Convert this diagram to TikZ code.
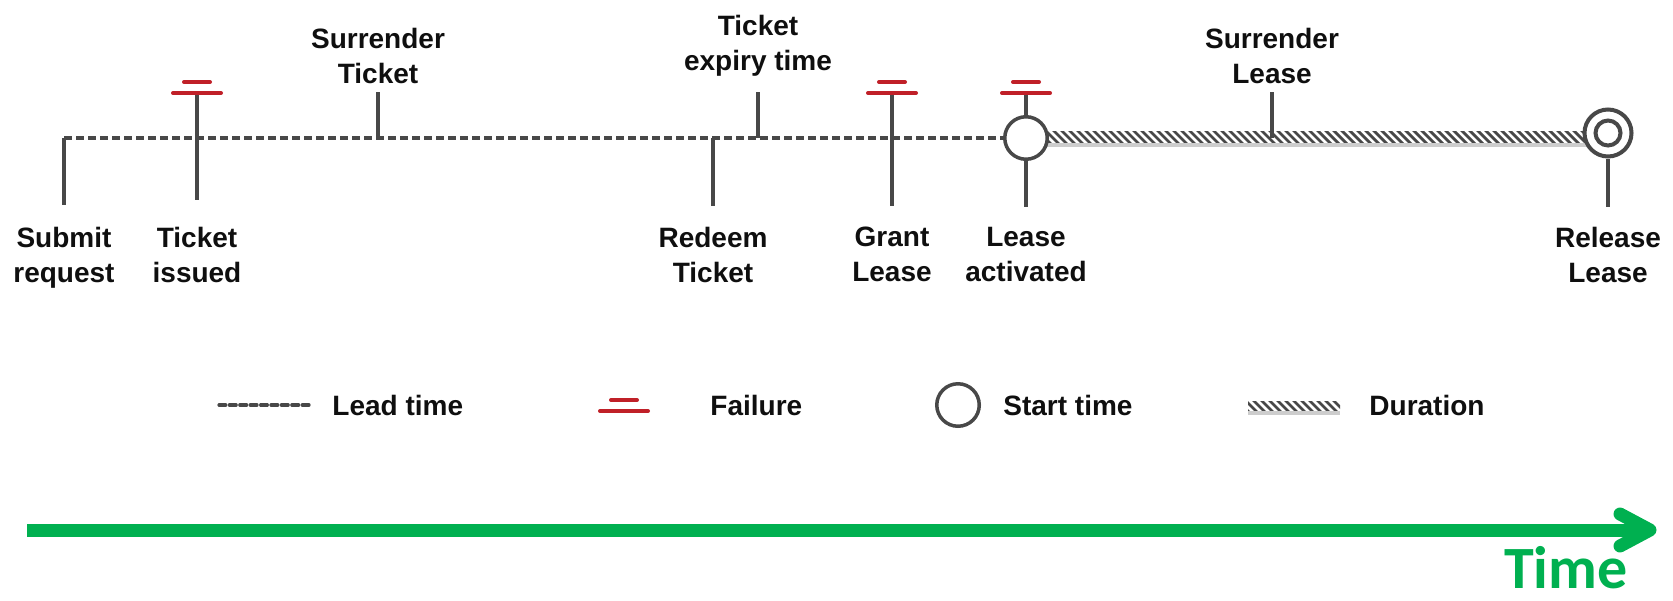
\documentclass[tikz,border=0pt]{standalone}
\usepackage{fontspec}
\setmainfont{Liberation Sans}
\newfontfamily\timefont{Carlito}
\definecolor{tickgray}{RGB}{72,72,72}
\definecolor{failred}{RGB}{192,32,40}
\definecolor{inkblack}{RGB}{15,15,15}
\definecolor{timegreen}{RGB}{0,176,80}
\definecolor{hatchlight}{RGB}{205,205,205}
\begin{document}
\begin{tikzpicture}[x=0.5pt,y=-0.5pt,
  tick/.style={draw=tickgray, line width=2pt},
  lead/.style={draw=tickgray, line width=1.6pt, dash pattern=on 4pt off 2pt},
  keylead/.style={draw=tickgray, line width=1.6pt, dash pattern=on 3.4pt off 1.8pt, line cap=round},
  failbar/.style={draw=failred, line width=2pt, line cap=round},
  hatchln/.style={draw=tickgray, line width=1.4pt},
  evlabel/.style={font=\bfseries\fontsize{14}{17.5}\selectfont, text=inkblack, align=center, inner sep=0pt},
  startcirc/.style={circle, draw=tickgray, line width=1.75pt, fill=white, minimum size=21.25pt, inner sep=0pt},
  endring/.style={circle, draw=tickgray, line width=2pt, fill=white, minimum size=23.5pt, inner sep=0pt},
  timearrow/.style={draw=timegreen, line width=6.5pt},
  failmark/.pic={
    \draw[failbar] (-24,0) -- (24,0);
    \draw[failbar] (-13,-11) -- (13,-11);
  }
]
\useasboundingbox (0,0) rectangle (1673,600);

% ---- event points on the timeline ----
\coordinate (sub) at (64,138);
\coordinate (iss) at (197,138);
\coordinate (surt) at (378,138);
\coordinate (red) at (713,138);
\coordinate (exp) at (758,138);
\coordinate (gra) at (892,138);
\coordinate (surl) at (1272,138);

% ---- duration band (hatched) ----
\begin{scope}
  \clip (1040,131) rectangle (1600,143);
  \foreach \i in {1020,1028,...,1600}
    \draw[hatchln] (\i,129) -- ++(16,16);
\end{scope}
\fill[hatchlight] (1040,143) rectangle (1600,147);

% ---- lead time ----
\node[startcirc] (act) at (1026,138) {};
\draw[lead] (sub) -- (act.west);

% ---- ticks ----
\draw[tick] (sub) -- ++(0,67) coordinate (subb);
\coordinate (issf) at (197,93);
\draw[tick] (issf) -- (197,200);
\draw[tick] (378,92) -- (surt);
\draw[tick] (red) -- (713,206);
\draw[tick] (758,92) -- (exp);
\coordinate (graf) at (892,93);
\draw[tick] (graf) -- (892,206);
\coordinate (actf) at (1026,93);
\draw[tick] (actf) -- (act.north);
\draw[tick] (act.south) -- (1026,207);
\draw[tick] (1272,92) -- (surl);

% ---- release ----
\node[endring] (rel) at (1608,133) {};
\draw[draw=tickgray, line width=2pt] (rel.center) circle (12.5);
\draw[tick] (rel.south) -- (1608,207);

% ---- failure markers ----
\pic at (issf) {failmark};
\pic at (graf) {failmark};
\pic at (actf) {failmark};

% ---- labels ----
\node[evlabel, anchor=north] (lsub) at (64,227) {Submit\\request};
\node[evlabel, anchor=north] (liss) at (197,227) {Ticket\\issued};
\node[evlabel, anchor=north] (lred) at (713,227) {Redeem\\Ticket};
\node[evlabel, anchor=north] (lgra) at (892,227) {Grant\\Lease};
\node[evlabel, anchor=north] (lact) at (1026,227) {Lease\\activated};
\node[evlabel, anchor=north] (lrel) at (1608,227) {Release\\Lease};
\node[evlabel, anchor=north] (lsurt) at (378,28) {Surrender\\Ticket};
\node[evlabel, anchor=north] (lexp) at (758,15) {Ticket\\expiry time};
\node[evlabel, anchor=north] (lsurl) at (1272,28) {Surrender\\Lease};

% ---- legend ----
\coordinate (lg1a) at (219,405);
\coordinate (lg1b) at (310,405);
\draw[keylead] (lg1a) -- (lg1b);
\node[evlabel, anchor=base west] (kl) at (332,415) {Lead time};
\pic at (624,411) {failmark};
\node[evlabel, anchor=base west] (kf) at (710,415) {Failure};
\node[startcirc] (ks) at (958,405) {};
\node[evlabel, anchor=base west] (kst) at (1003,415) {Start time};
\begin{scope}
  \clip (1248,401) rectangle (1340,411);
  \foreach \i in {1228,1236,...,1340}
    \draw[hatchln] (\i,399) -- ++(14,14);
\end{scope}
\fill[hatchlight] (1248,411) rectangle (1340,415);
\node[evlabel, anchor=base west] (kd) at (1369,415) {Duration};

% ---- time axis ----
\coordinate (t0) at (27,530);
\coordinate (t1) at (1650,530);
\coordinate (tu) at (1620,514);
\coordinate (td) at (1620,546);
\draw[timearrow] (t0) -- (t1);
\draw[timearrow, line cap=round, line join=round] (tu) -- (t1) -- (td);
\node[font=\timefont\bfseries\fontsize{30}{36}\selectfont, text=timegreen, anchor=base east, inner sep=0pt] (tlab) at (1628,588) {Time};
\end{tikzpicture}
\end{document}
